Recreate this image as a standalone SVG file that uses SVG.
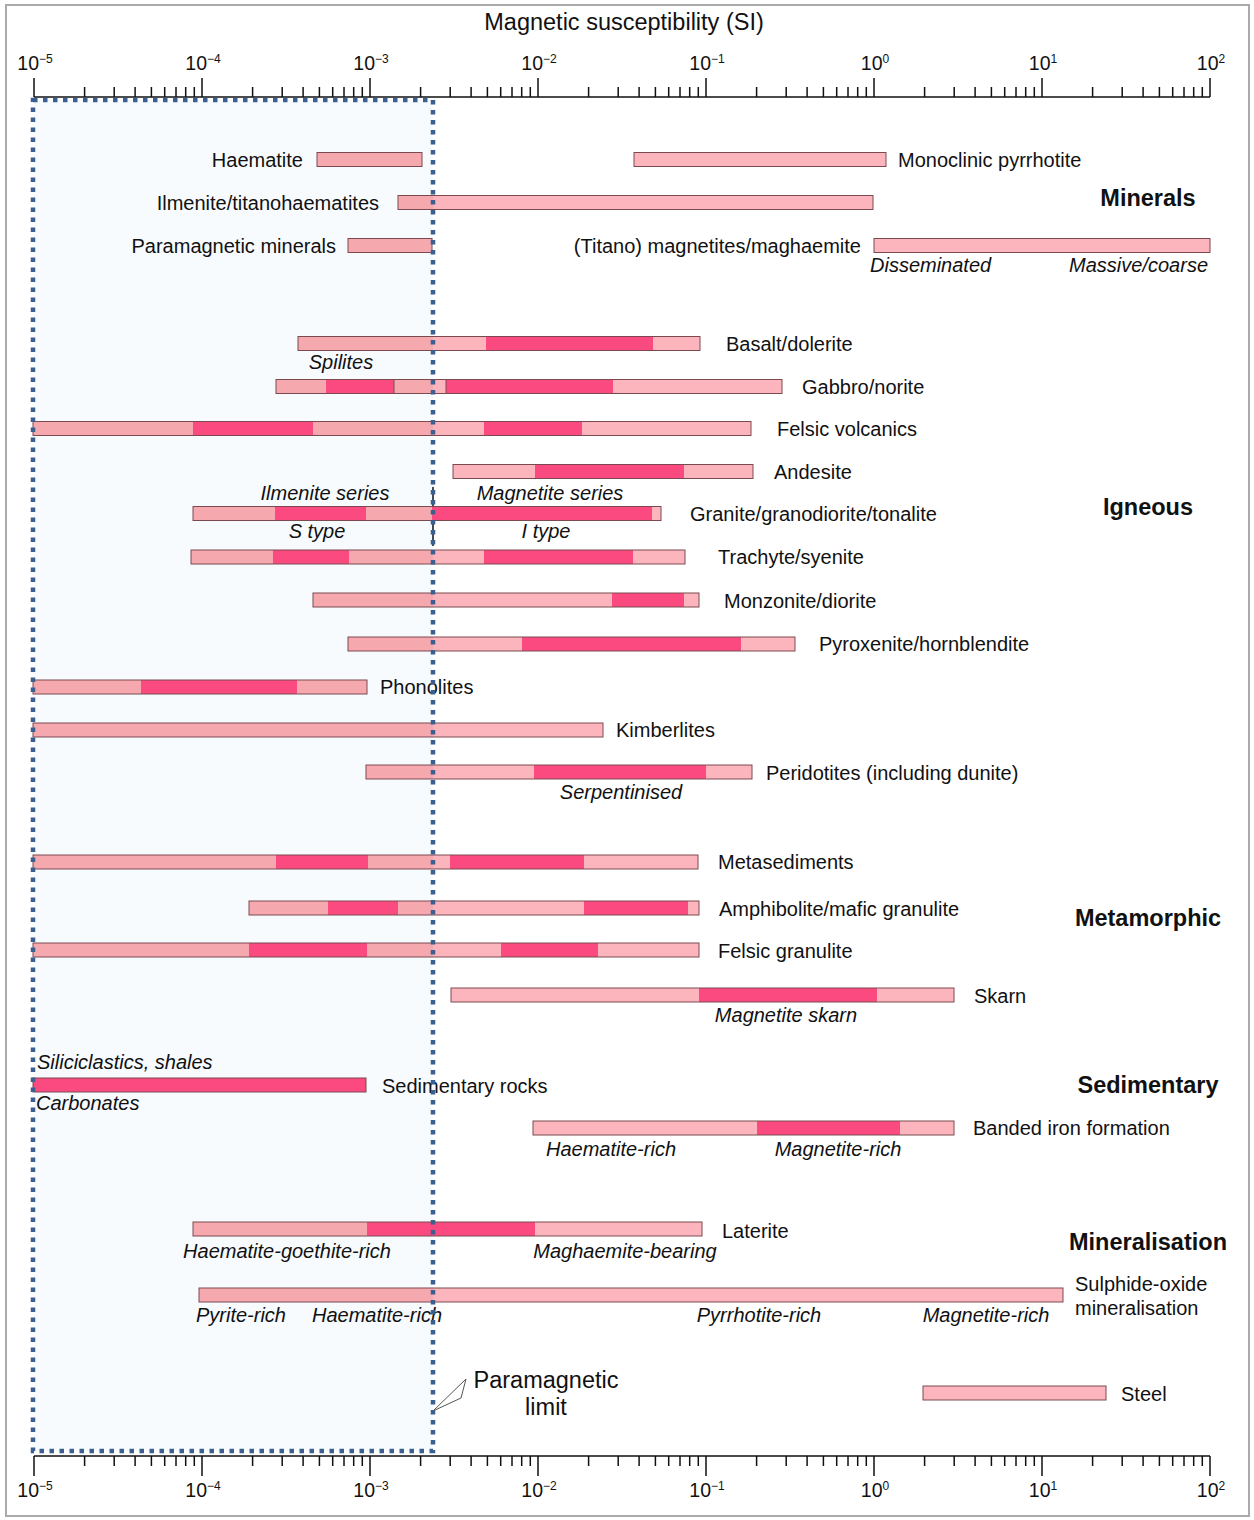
<svg xmlns="http://www.w3.org/2000/svg" width="1254" height="1520" viewBox="0 0 1254 1520">
<defs>
<linearGradient id="lpg" gradientUnits="userSpaceOnUse" x1="0" y1="0" x2="1254" y2="0">
<stop offset="0.3453" stop-color="#f6a8af"/>
<stop offset="0.3453" stop-color="#fdb5bd"/>
</linearGradient>
<style>
text{font-family:"Liberation Sans",Arial,sans-serif;fill:#111}
.lbl{font-size:20px}
.it{font-size:20px;font-style:italic}
.mid{text-anchor:middle}
.end{text-anchor:end}
.cat{font-size:23.5px;font-weight:bold;text-anchor:middle}
.ax{font-size:19.5px;text-anchor:middle}
.sup{font-size:12px}
.lp{fill:url(#lpg)}
.dp{fill:#fa4a80}
.ol{fill:none;stroke:#7a4a50;stroke-width:1}
.tick{fill:none;stroke:#111;stroke-width:1.5}
</style>
</defs>
<rect x="0" y="0" width="1254" height="1520" fill="#ffffff"/>
<rect x="6" y="5" width="1243" height="1511" fill="none" stroke="#aaaaaa" stroke-width="2"/>
<rect id="paramagnetic-box" x="33" y="100" width="400" height="1351" fill="#f7fbfe"/>

<text x="624" y="30" font-size="23.5" text-anchor="middle">Magnetic susceptibility (SI)</text>

<g id="axis-top">
<path class="tick" d="M34 97H1210M34 78V97M202 78V97M370 78V97M538 78V97M706 78V97M874 78V97M1042 78V97M1210 78V97"/>
<path class="tick" stroke-width="1.2" d="M84.6 87V97M114.2 87V97M135.1 87V97M151.4 87V97M164.7 87V97M176 87V97M185.7 87V97M194.3 87V97
M252.6 87V97M282.2 87V97M303.1 87V97M319.4 87V97M332.7 87V97M344 87V97M353.7 87V97M362.3 87V97
M420.6 87V97M450.2 87V97M471.1 87V97M487.4 87V97M500.7 87V97M512 87V97M521.7 87V97M530.3 87V97
M588.6 87V97M618.2 87V97M639.1 87V97M655.4 87V97M668.7 87V97M680 87V97M689.7 87V97M698.3 87V97
M756.6 87V97M786.2 87V97M807.1 87V97M823.4 87V97M836.7 87V97M848 87V97M857.7 87V97M866.3 87V97
M924.6 87V97M954.2 87V97M975.1 87V97M991.4 87V97M1004.7 87V97M1016 87V97M1025.7 87V97M1034.3 87V97
M1092.6 87V97M1122.2 87V97M1143.1 87V97M1159.4 87V97M1172.7 87V97M1184 87V97M1193.7 87V97M1202.3 87V97"/>
<text class="ax" x="35" y="70">10<tspan class="sup" dy="-7">−5</tspan></text>
<text class="ax" x="203" y="70">10<tspan class="sup" dy="-7">−4</tspan></text>
<text class="ax" x="371" y="70">10<tspan class="sup" dy="-7">−3</tspan></text>
<text class="ax" x="539" y="70">10<tspan class="sup" dy="-7">−2</tspan></text>
<text class="ax" x="707" y="70">10<tspan class="sup" dy="-7">−1</tspan></text>
<text class="ax" x="875" y="70">10<tspan class="sup" dy="-7">0</tspan></text>
<text class="ax" x="1043" y="70">10<tspan class="sup" dy="-7">1</tspan></text>
<text class="ax" x="1211" y="70">10<tspan class="sup" dy="-7">2</tspan></text>
</g>

<g id="axis-bottom">
<path class="tick" d="M34 1456H1210M34 1456V1476M202 1456V1476M370 1456V1476M538 1456V1476M706 1456V1476M874 1456V1476M1042 1456V1476M1210 1456V1476"/>
<path class="tick" stroke-width="1.2" d="M84.6 1456V1466M114.2 1456V1466M135.1 1456V1466M151.4 1456V1466M164.7 1456V1466M176 1456V1466M185.7 1456V1466M194.3 1456V1466
M252.6 1456V1466M282.2 1456V1466M303.1 1456V1466M319.4 1456V1466M332.7 1456V1466M344 1456V1466M353.7 1456V1466M362.3 1456V1466
M420.6 1456V1466M450.2 1456V1466M471.1 1456V1466M487.4 1456V1466M500.7 1456V1466M512 1456V1466M521.7 1456V1466M530.3 1456V1466
M588.6 1456V1466M618.2 1456V1466M639.1 1456V1466M655.4 1456V1466M668.7 1456V1466M680 1456V1466M689.7 1456V1466M698.3 1456V1466
M756.6 1456V1466M786.2 1456V1466M807.1 1456V1466M823.4 1456V1466M836.7 1456V1466M848 1456V1466M857.7 1456V1466M866.3 1456V1466
M924.6 1456V1466M954.2 1456V1466M975.1 1456V1466M991.4 1456V1466M1004.7 1456V1466M1016 1456V1466M1025.7 1456V1466M1034.3 1456V1466
M1092.6 1456V1466M1122.2 1456V1466M1143.1 1456V1466M1159.4 1456V1466M1172.7 1456V1466M1184 1456V1466M1193.7 1456V1466M1202.3 1456V1466"/>
<text class="ax" x="35" y="1497">10<tspan class="sup" dy="-7">−5</tspan></text>
<text class="ax" x="203" y="1497">10<tspan class="sup" dy="-7">−4</tspan></text>
<text class="ax" x="371" y="1497">10<tspan class="sup" dy="-7">−3</tspan></text>
<text class="ax" x="539" y="1497">10<tspan class="sup" dy="-7">−2</tspan></text>
<text class="ax" x="707" y="1497">10<tspan class="sup" dy="-7">−1</tspan></text>
<text class="ax" x="875" y="1497">10<tspan class="sup" dy="-7">0</tspan></text>
<text class="ax" x="1043" y="1497">10<tspan class="sup" dy="-7">1</tspan></text>
<text class="ax" x="1211" y="1497">10<tspan class="sup" dy="-7">2</tspan></text>
</g>

<g id="categories">
<text class="cat" x="1148" y="206">Minerals</text>
<text class="cat" x="1148" y="515">Igneous</text>
<text class="cat" x="1148" y="926">Metamorphic</text>
<text class="cat" x="1148" y="1093">Sedimentary</text>
<text class="cat" x="1148" y="1250">Mineralisation</text>
</g>

<g id="haematite">
<rect class="lp" x="317" y="152.5" width="105" height="14"/><rect class="ol" x="317" y="152.5" width="105" height="14"/>
<text class="lbl end" x="303" y="167">Haematite</text>
</g>
<g id="monoclinic-pyrrhotite">
<rect class="lp" x="634" y="152.5" width="252" height="14"/><rect class="ol" x="634" y="152.5" width="252" height="14"/>
<text class="lbl" x="898" y="167">Monoclinic pyrrhotite</text>
</g>
<g id="ilmenite">
<rect class="lp" x="398" y="195.5" width="475" height="14"/><rect class="ol" x="398" y="195.5" width="475" height="14"/>
<text class="lbl end" x="379" y="210">Ilmenite/titanohaematites</text>
</g>
<g id="paramagnetic-minerals">
<rect class="lp" x="348" y="238.5" width="84" height="14"/><rect class="ol" x="348" y="238.5" width="84" height="14"/>
<text class="lbl end" x="336" y="253">Paramagnetic minerals</text>
</g>
<g id="titanomagnetites">
<rect class="lp" x="874" y="238.5" width="336" height="14"/><rect class="ol" x="874" y="238.5" width="336" height="14"/>
<text class="lbl end" x="861" y="253">(Titano) magnetites/maghaemite</text>
<text class="it" x="870" y="272">Disseminated</text>
<text class="it end" x="1208" y="272">Massive/coarse</text>
</g>

<g id="basalt">
<rect class="lp" x="298" y="336.5" width="188" height="14"/><rect class="dp" x="486" y="336.5" width="167" height="14"/><rect class="lp" x="653" y="336.5" width="47" height="14"/>
<rect class="ol" x="298" y="336.5" width="402" height="14"/>
<text class="lbl" x="726" y="351">Basalt/dolerite</text>
<text class="it mid" x="341" y="369">Spilites</text>
</g>
<g id="gabbro">
<rect class="lp" x="276" y="379.5" width="50" height="14"/><rect class="dp" x="326" y="379.5" width="68" height="14"/><rect class="lp" x="394" y="379.5" width="52" height="14"/><rect class="dp" x="446" y="379.5" width="167" height="14"/><rect class="lp" x="613" y="379.5" width="169" height="14"/>
<rect class="ol" x="276" y="379.5" width="506" height="14"/><rect class="ol" x="394" y="379.5" width="52" height="14"/>
<text class="lbl" x="802" y="394">Gabbro/norite</text>
</g>
<g id="felsic-volcanics">
<rect class="lp" x="33" y="421.5" width="160" height="14"/><rect class="dp" x="193" y="421.5" width="120" height="14"/><rect class="lp" x="313" y="421.5" width="171" height="14"/><rect class="dp" x="484" y="421.5" width="98" height="14"/><rect class="lp" x="582" y="421.5" width="169" height="14"/>
<rect class="ol" x="33" y="421.5" width="718" height="14"/>
<text class="lbl" x="777" y="436">Felsic volcanics</text>
</g>
<g id="andesite">
<rect class="lp" x="453" y="464.5" width="82" height="14"/><rect class="dp" x="535" y="464.5" width="149" height="14"/><rect class="lp" x="684" y="464.5" width="69" height="14"/>
<rect class="ol" x="453" y="464.5" width="300" height="14"/>
<text class="lbl" x="774" y="479">Andesite</text>
</g>
<g id="granite">
<line x1="433" y1="487" x2="433" y2="546" stroke="#111" stroke-width="1.5"/>
<rect class="lp" x="193" y="506.5" width="82" height="14"/><rect class="dp" x="275" y="506.5" width="91" height="14"/><rect class="lp" x="366" y="506.5" width="66" height="14"/><rect class="dp" x="432" y="506.5" width="220" height="14"/><rect class="lp" x="652" y="506.5" width="9" height="14"/>
<rect class="ol" x="193" y="506.5" width="468" height="14"/>
<text class="lbl" x="690" y="521">Granite/granodiorite/tonalite</text>
<text class="it mid" x="325" y="500">Ilmenite series</text>
<text class="it mid" x="550" y="500">Magnetite series</text>
<text class="it mid" x="317" y="538">S type</text>
<text class="it mid" x="546" y="538">I type</text>
</g>
<g id="trachyte">
<rect class="lp" x="191" y="550" width="82" height="14"/><rect class="dp" x="273" y="550" width="76" height="14"/><rect class="lp" x="349" y="550" width="135" height="14"/><rect class="dp" x="484" y="550" width="149" height="14"/><rect class="lp" x="633" y="550" width="52" height="14"/>
<rect class="ol" x="191" y="550" width="494" height="14"/>
<text class="lbl" x="718" y="564">Trachyte/syenite</text>
</g>
<g id="monzonite">
<rect class="lp" x="313" y="593" width="299" height="14"/><rect class="dp" x="612" y="593" width="72" height="14"/><rect class="lp" x="684" y="593" width="15" height="14"/>
<rect class="ol" x="313" y="593" width="386" height="14"/>
<text class="lbl" x="724" y="608">Monzonite/diorite</text>
</g>
<g id="pyroxenite">
<rect class="lp" x="348" y="637" width="174" height="14"/><rect class="dp" x="522" y="637" width="219" height="14"/><rect class="lp" x="741" y="637" width="54" height="14"/>
<rect class="ol" x="348" y="637" width="447" height="14"/>
<text class="lbl" x="819" y="651">Pyroxenite/hornblendite</text>
</g>
<g id="phonolites">
<rect class="lp" x="33" y="680" width="108" height="14"/><rect class="dp" x="141" y="680" width="156" height="14"/><rect class="lp" x="297" y="680" width="70" height="14"/>
<rect class="ol" x="33" y="680" width="334" height="14"/>
<text class="lbl" x="380" y="694">Phonolites</text>
</g>
<g id="kimberlites">
<rect class="lp" x="33" y="723" width="570" height="14"/><rect class="ol" x="33" y="723" width="570" height="14"/>
<text class="lbl" x="616" y="737">Kimberlites</text>
</g>
<g id="peridotites">
<rect class="lp" x="366" y="765" width="168" height="14"/><rect class="dp" x="534" y="765" width="172" height="14"/><rect class="lp" x="706" y="765" width="46" height="14"/>
<rect class="ol" x="366" y="765" width="386" height="14"/>
<text class="lbl" x="766" y="780">Peridotites (including dunite)</text>
<text class="it mid" x="621" y="799">Serpentinised</text>
</g>

<g id="metasediments">
<rect class="lp" x="33" y="855" width="243" height="14"/><rect class="dp" x="276" y="855" width="92" height="14"/><rect class="lp" x="368" y="855" width="82" height="14"/><rect class="dp" x="450" y="855" width="134" height="14"/><rect class="lp" x="584" y="855" width="114" height="14"/>
<rect class="ol" x="33" y="855" width="665" height="14"/>
<text class="lbl" x="718" y="869">Metasediments</text>
</g>
<g id="amphibolite">
<rect class="lp" x="249" y="901" width="79" height="14"/><rect class="dp" x="328" y="901" width="70" height="14"/><rect class="lp" x="398" y="901" width="186" height="14"/><rect class="dp" x="584" y="901" width="104" height="14"/><rect class="lp" x="688" y="901" width="11" height="14"/>
<rect class="ol" x="249" y="901" width="450" height="14"/>
<text class="lbl" x="719" y="916">Amphibolite/mafic granulite</text>
</g>
<g id="felsic-granulite">
<rect class="lp" x="33" y="943" width="216" height="14"/><rect class="dp" x="249" y="943" width="118" height="14"/><rect class="lp" x="367" y="943" width="134" height="14"/><rect class="dp" x="501" y="943" width="97" height="14"/><rect class="lp" x="598" y="943" width="101" height="14"/>
<rect class="ol" x="33" y="943" width="666" height="14"/>
<text class="lbl" x="718" y="958">Felsic granulite</text>
</g>
<g id="skarn">
<rect class="lp" x="451" y="988" width="248" height="14"/><rect class="dp" x="699" y="988" width="178" height="14"/><rect class="lp" x="877" y="988" width="77" height="14"/>
<rect class="ol" x="451" y="988" width="503" height="14"/>
<text class="lbl" x="974" y="1003">Skarn</text>
<text class="it mid" x="786" y="1022">Magnetite skarn</text>
</g>

<g id="sedimentary-rocks">
<rect class="dp" x="33" y="1078" width="333" height="14"/><rect class="ol" x="33" y="1078" width="333" height="14" stroke="#d83068"/>
<text class="lbl" x="382" y="1093">Sedimentary rocks</text>
<text class="it" x="37" y="1069">Siliciclastics, shales</text>
<text class="it" x="36" y="1110">Carbonates</text>
</g>
<g id="banded-iron-formation">
<rect class="lp" x="533" y="1121" width="224" height="14"/><rect class="dp" x="757" y="1121" width="143" height="14"/><rect class="lp" x="900" y="1121" width="54" height="14"/>
<rect class="ol" x="533" y="1121" width="421" height="14"/>
<text class="lbl" x="973" y="1135">Banded iron formation</text>
<text class="it mid" x="611" y="1156">Haematite-rich</text>
<text class="it mid" x="838" y="1156">Magnetite-rich</text>
</g>

<g id="laterite">
<rect class="lp" x="193" y="1222" width="174" height="14"/><rect class="dp" x="367" y="1222" width="168" height="14"/><rect class="lp" x="535" y="1222" width="167" height="14"/>
<rect class="ol" x="193" y="1222" width="509" height="14"/>
<text class="lbl" x="722" y="1238">Laterite</text>
<text class="it mid" x="287" y="1258">Haematite-goethite-rich</text>
<text class="it mid" x="625" y="1258">Maghaemite-bearing</text>
</g>
<g id="sulphide-oxide">
<rect class="lp" x="199" y="1288" width="864" height="14"/><rect class="ol" x="199" y="1288" width="864" height="14"/>
<text class="lbl" x="1075" y="1291">Sulphide-oxide</text>
<text class="lbl" x="1075" y="1315">mineralisation</text>
<text class="it mid" x="241" y="1322">Pyrite-rich</text>
<text class="it mid" x="377" y="1322">Haematite-rich</text>
<text class="it mid" x="759" y="1322">Pyrrhotite-rich</text>
<text class="it mid" x="986" y="1322">Magnetite-rich</text>
</g>
<g id="steel">
<rect class="lp" x="923" y="1386" width="183" height="14"/><rect class="ol" x="923" y="1386" width="183" height="14"/>
<text class="lbl" x="1121" y="1401">Steel</text>
</g>

<g id="paramagnetic-limit-label">
<text class="mid" x="546" y="1388" font-size="23.5">Paramagnetic</text>
<text class="mid" x="546" y="1415" font-size="23.5">limit</text>
</g>

<g id="paramagnetic-box-outline">
<rect x="33" y="100" width="400" height="1351" fill="none" stroke="#3b5f8e" stroke-width="4.5" stroke-dasharray="4.5 5.5"/>
</g>

<g id="connectors">
<polygon points="433,1411 466,1379 461,1398" fill="#ffffff" stroke="#555" stroke-width="1"/>
</g>
</svg>
